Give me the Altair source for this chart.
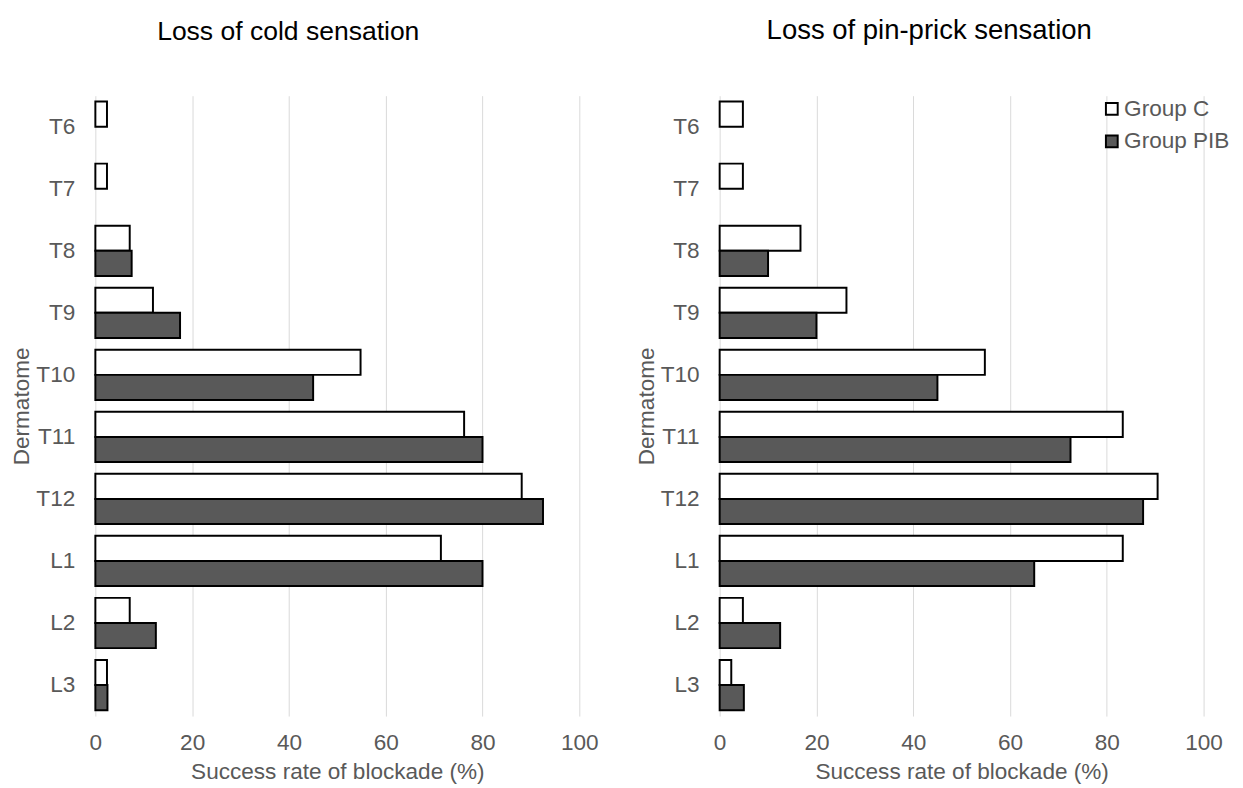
import altair as alt
import pandas as pd

dermatomes = ["T6", "T7", "T8", "T9", "T10", "T11", "T12", "L1", "L2", "L3"]
groups = ["Group C", "Group PIB"]

cold_c = [2.4, 2.4, 7.1, 11.9, 54.8, 76.2, 88.1, 71.4, 7.1, 2.4]
cold_pib = [0.0, 0.0, 7.5, 17.5, 45.0, 80.0, 92.5, 80.0, 12.5, 2.5]
pin_c = [4.8, 4.8, 16.7, 26.2, 54.8, 83.3, 90.5, 83.3, 4.8, 2.4]
pin_pib = [0.0, 0.0, 10.0, 20.0, 45.0, 72.5, 87.5, 65.0, 12.5, 5.0]

panel_titles = ["Loss of cold sensation", "Loss of pin-prick sensation"]
x_ticks = [0, 20, 40, 60, 80, 100]

rows = []
for panel, (c_vals, p_vals) in zip(panel_titles, [(cold_c, cold_pib), (pin_c, pin_pib)]):
    for d, cv, pv in zip(dermatomes, c_vals, p_vals):
        rows.append({"panel": panel, "derm": d, "group": groups[0], "value": cv})
        rows.append({"panel": panel, "derm": d, "group": groups[1], "value": pv})
df = pd.DataFrame(rows)

FONT = "Liberation Sans"
GRAY = "#595959"


def panel_chart(title, show_legend, title_dx, title_size):
    if show_legend:
        legend = alt.Legend(
            title=None, orient="none", legendX=388, legendY=2,
            symbolType="square", symbolSize=144, symbolStrokeColor="black",
            symbolStrokeWidth=2, labelFontSize=23, labelColor=GRAY,
            labelFont=FONT, labelOffset=1, rowPadding=9, padding=0,
        )
        fill = alt.Fill("group:N", scale=alt.Scale(domain=groups, range=["white", "#595959"]),
                        legend=legend)
    else:
        fill = alt.Fill("group:N", scale=alt.Scale(domain=groups, range=["white", "#595959"]),
                        legend=None)
    return (
        alt.Chart(df)
        .transform_filter(alt.datum.panel == title)
        .transform_filter(alt.datum.value > 0)
        .mark_bar(stroke="black", strokeWidth=2)
        .encode(
            y=alt.Y("derm:N", sort=dermatomes,
                    scale=alt.Scale(paddingInner=0.19, paddingOuter=0.095),
                    axis=alt.Axis(title="Dermatome", grid=False, domain=False, ticks=False,
                                  labelFontSize=23, labelColor=GRAY, labelPadding=21,
                                  titleFontSize=23, titleColor=GRAY, titleFontWeight="normal",
                                  titlePadding=2)),
            yOffset=alt.YOffset("group:N", sort=groups, scale=alt.Scale(domain=groups)),
            x=alt.X("value:Q", scale=alt.Scale(domain=[0, 100]),
                    axis=alt.Axis(title="Success rate of blockade (%)", values=x_ticks,
                                  grid=True, gridColor="#d9d9d9", gridWidth=1,
                                  domain=False, ticks=False, labelFlush=False,
                                  labelFontSize=23, labelColor=GRAY, labelPadding=16,
                                  titleFontSize=23, titleColor=GRAY, titleFontWeight="normal",
                                  titlePadding=7)),
            fill=fill,
        )
        .properties(
            width=493, height=632,
            title=alt.TitleParams(title, fontSize=title_size, font=FONT, color="black",
                                  fontWeight="normal", anchor="middle", dx=title_dx,
                                  baseline="alphabetic", offset=30),
        )
    )


chart = (
    alt.hconcat(panel_chart(panel_titles[0], False, -50, 27),
                panel_chart(panel_titles[1], True, -33, 28), spacing=37)
    .resolve_scale(fill="independent")
    .resolve_legend(fill="independent")
    .configure(font=FONT, padding={"left": 3, "top": 2, "right": 5, "bottom": 0})
    .configure_view(strokeWidth=0)
    .configure_axis(labelFont=FONT, titleFont=FONT)
)

chart.save("out.html", embed_options={"renderer": "svg", "actions": False})
